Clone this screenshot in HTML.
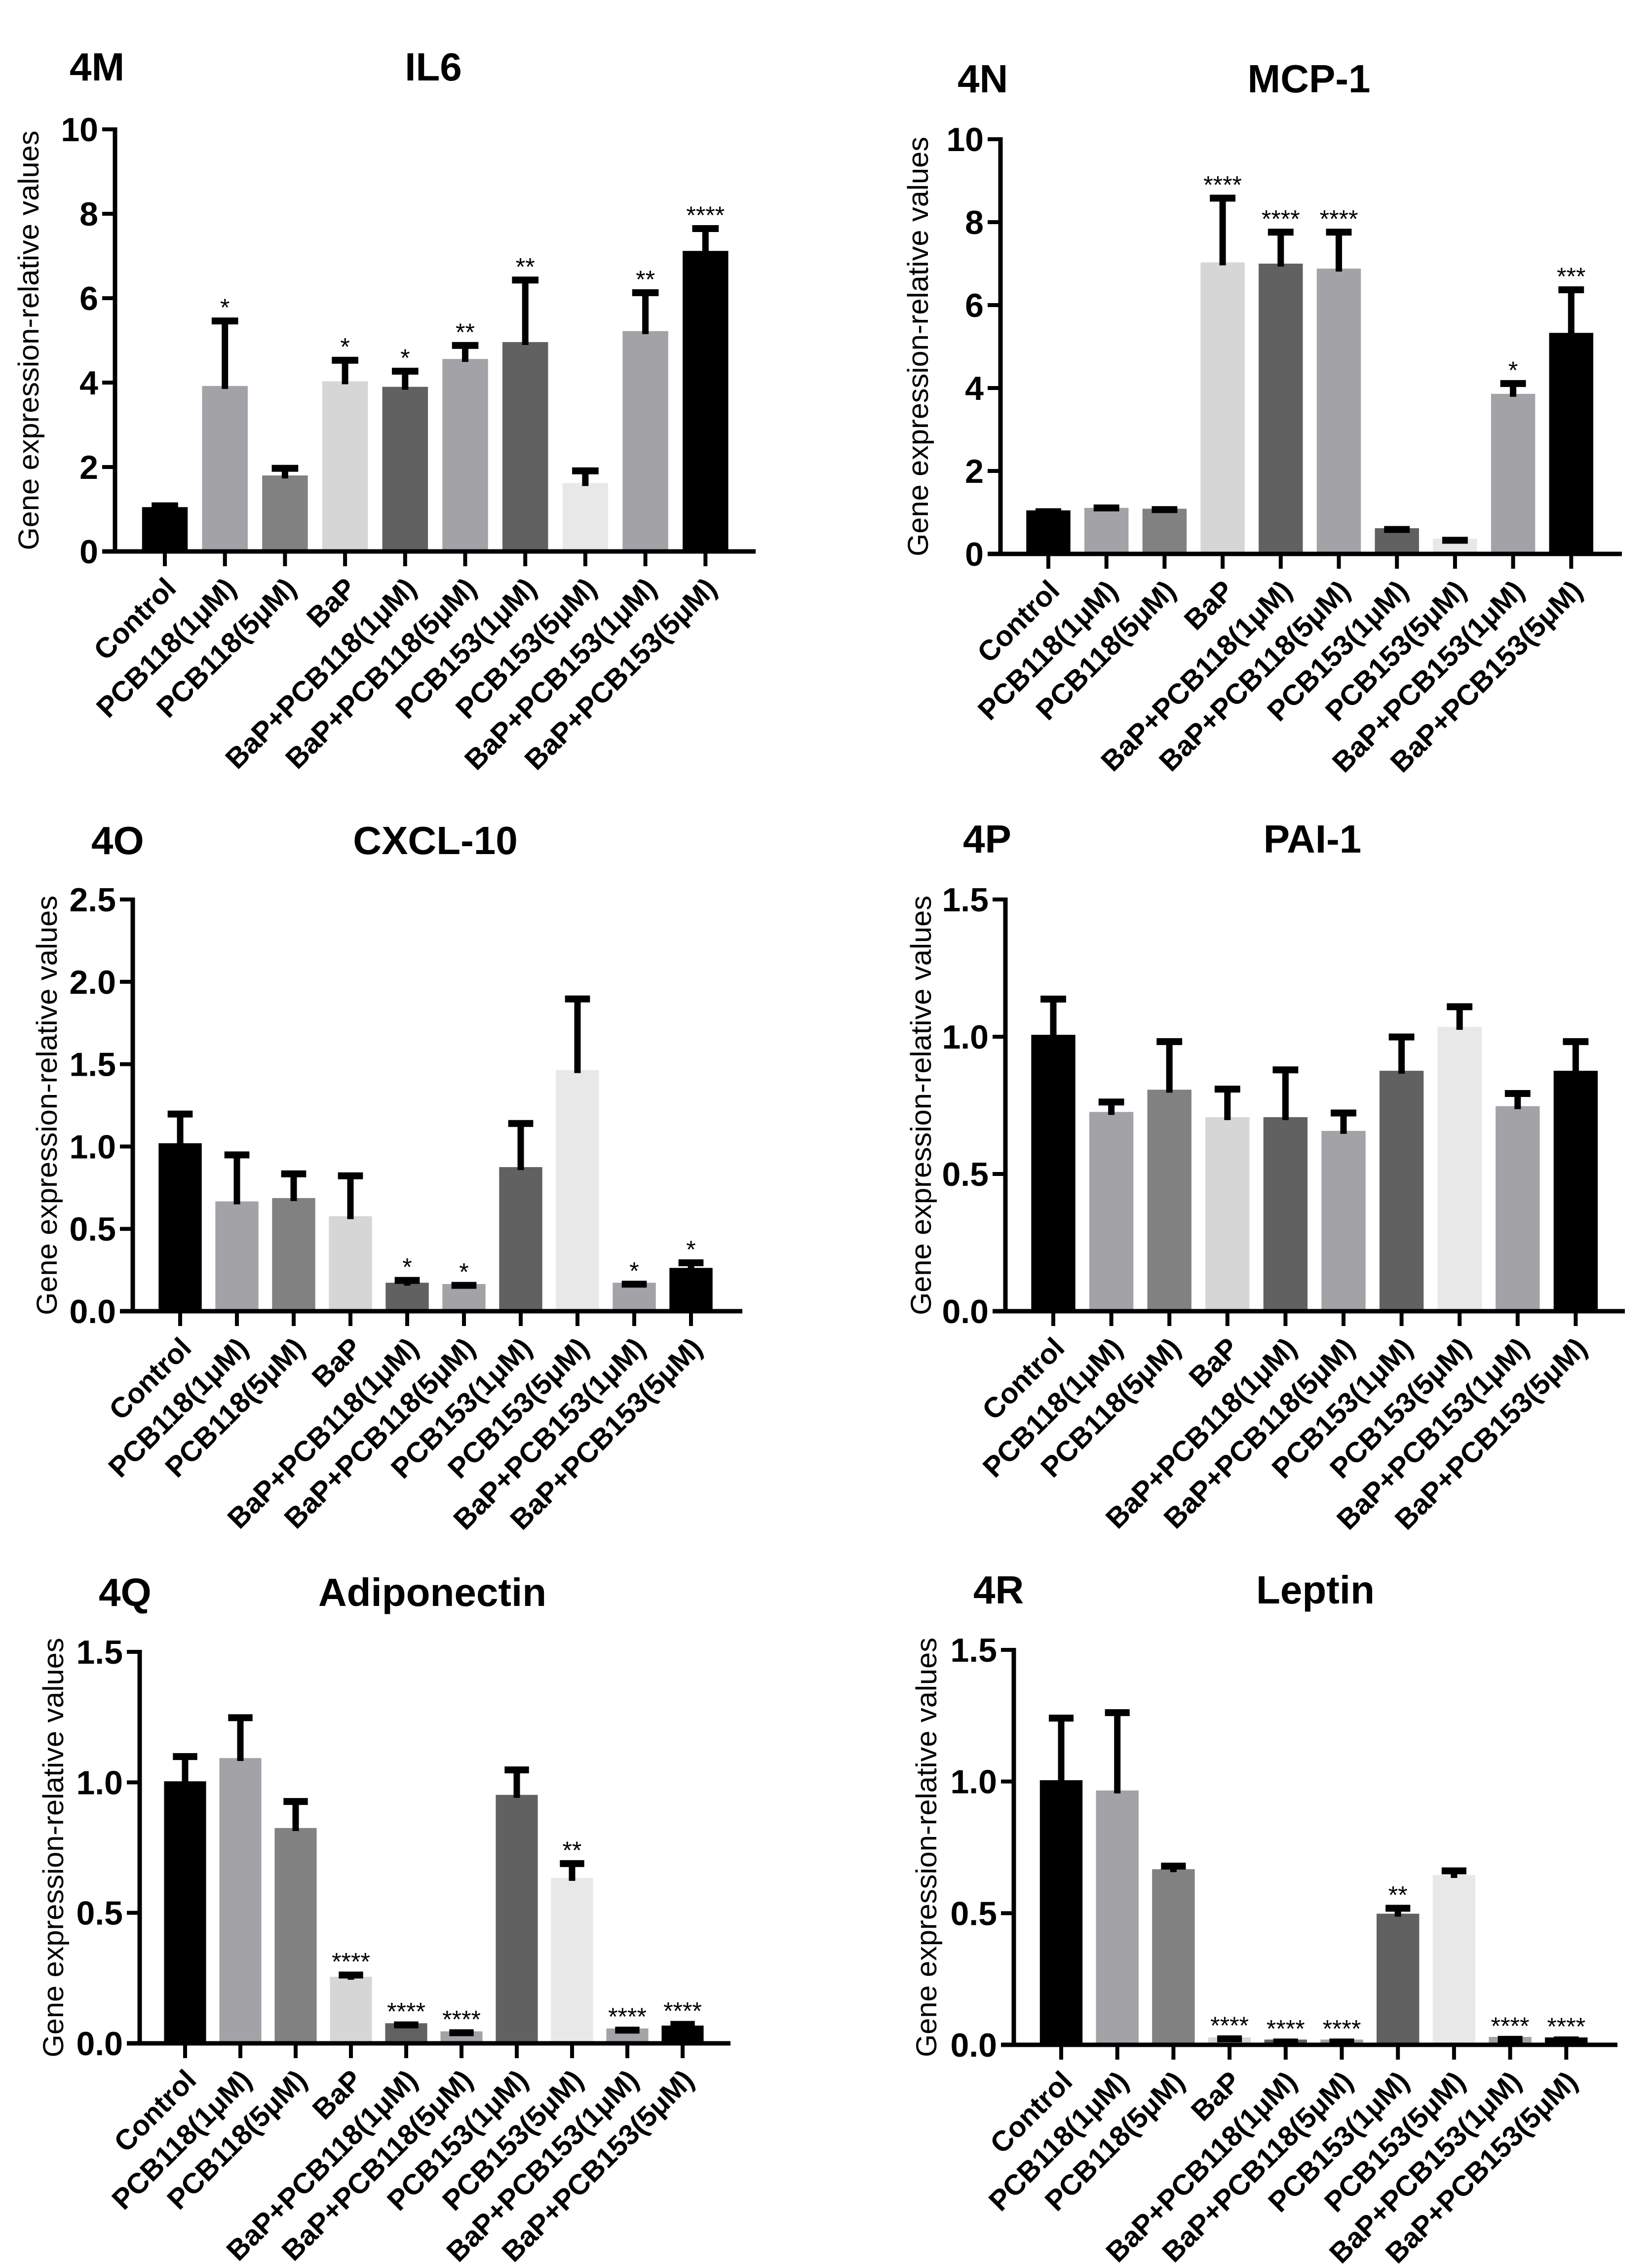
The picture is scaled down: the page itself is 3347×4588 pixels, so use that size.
<!DOCTYPE html>
<html><head><meta charset="utf-8"><style>
html,body{margin:0;padding:0;background:#fff}
svg{display:block}
text{font-family:"Liberation Sans",Arial,sans-serif}
</style></head><body>
<svg id="fig" xmlns="http://www.w3.org/2000/svg" width="3347" height="4588" viewBox="0 0 3347 4588"></svg>
<script>
const categories = ["Control","PCB118(1μM)","PCB118(5μM)","BaP","BaP+PCB118(1μM)","BaP+PCB118(5μM)","PCB153(1μM)","PCB153(5μM)","BaP+PCB153(1μM)","BaP+PCB153(5μM)"];
const barColors = ["#000000","#a3a2a7","#818181","#d6d6d6","#616161","#a3a2a7","#616161","#e8e8e8","#a3a2a7","#000000"];

const il6Values = [1.05,3.92,1.80,4.03,3.90,4.56,4.96,1.62,5.22,7.12];
const il6Errors = [1.15,5.53,2.04,4.60,4.34,4.95,6.50,1.98,6.20,7.72];
const il6Stars = ["","*","","*","*","**","**","","**","****"];
const il6Ticks = [0,2,4,6,8,10];

const mcpValues = [1.05,1.11,1.09,7.03,7.00,6.88,0.62,0.37,3.86,5.33];
const mcpErrors = [1.09,1.18,1.14,8.65,7.83,7.83,0.66,0.40,4.18,6.44];
const mcpStars = ["","","","****","****","****","","","*","***"];
const mcpTicks = [0,2,4,6,8,10];

const cxclValues = [1.02,0.667,0.687,0.577,0.173,0.165,0.875,1.464,0.173,0.263];
const cxclErrors = [1.215,0.967,0.852,0.840,0.205,0.175,1.158,1.914,0.182,0.312];
const cxclStars = ["","","","","*","*","","","*","*"];
const cxclTicks = [0,0.5,1.0,1.5,2.0,2.5];

const paiValues = [1.007,0.726,0.807,0.707,0.707,0.657,0.876,1.036,0.747,0.876];
const paiErrors = [1.148,0.773,0.993,0.820,0.890,0.733,1.010,1.120,0.804,0.993];
const paiStars = ["","","","","","","","","",""];
const paiTicks = [0,0.5,1.0,1.5];

const adipoValues = [1.004,1.093,0.825,0.255,0.077,0.046,0.952,0.634,0.057,0.068];
const adipoErrors = [1.110,1.259,0.938,0.273,0.082,0.052,1.059,0.700,0.062,0.084];
const adipoStars = ["","","","****","****","****","","**","****","****"];
const adipoTicks = [0,0.5,1.0,1.5];

const leptinValues = [1.005,0.966,0.667,0.028,0.020,0.020,0.498,0.645,0.030,0.028];
const leptinErrors = [1.252,1.273,0.690,0.034,0.022,0.022,0.530,0.672,0.032,0.030];
const leptinStars = ["","","","****","****","****","**","","****","****"];
const leptinTicks = [0,0.5,1.0,1.5];

const NS = "http://www.w3.org/2000/svg";
const svg = document.getElementById("fig");
function mk(tag, attrs, parent){
  const e = document.createElementNS(NS, tag);
  for (const k in attrs) e.setAttribute(k, attrs[k]);
  (parent||svg).appendChild(e);
  return e;
}

function panel(cfg, values, errors, stars, ticks){
  const g = mk("g", {});
  
  
  const ymax = ticks[ticks.length-1];
  const yScale = v => cfg.y0 - (v/ymax)*(cfg.y0-cfg.yTop);
  const xScale = i => cfg.x0 + i*cfg.step;
  const bw = cfg.step*0.76;

  const pl = mk("text", {x:cfg.lblX, y:cfg.lblY, "font-size":80, "font-weight":"bold", fill:"#000"}, g);
  pl.textContent = cfg.label;
  
  
  const tt = mk("text", {x:cfg.titleX, y:cfg.lblY, "font-size":80, "font-weight":"bold", "text-anchor":"middle", fill:"#000"}, g);
  tt.textContent = cfg.title;
  
  

  const ymid = (cfg.yTop+cfg.y0)/2;
  const yl = mk("text", {x:0, y:0, "font-size":58, "text-anchor":"middle", textLength:850, lengthAdjust:"spacingAndGlyphs", fill:"#000",
    transform:`translate(${cfg.ylX},${ymid}) rotate(-90)`}, g);
  yl.textContent = "Gene expression-relative values";
  
  

  values.forEach((v,i)=>{
    const cx = xScale(i);
    const r = mk("rect", {x:cx-bw/2, y:yScale(v), width:bw, height:cfg.y0-yScale(v), fill:barColors[i]}, g);
    
    
    const eTop = yScale(errors[i]);
    const el = mk("line", {x1:cx, x2:cx, y1:yScale(v)+6, y2:eTop, stroke:"#000", "stroke-width":13}, g);
    
    
    const cap = mk("line", {x1:cx-bw*0.29, x2:cx+bw*0.29, y1:eTop+6, y2:eTop+6, stroke:"#000", "stroke-width":14}, g);
    
    
    if (stars[i]){
      const s = mk("text", {x:cx, y:eTop-4, "font-size":50, "text-anchor":"middle", fill:"#000"}, g);
      s.textContent = stars[i];
      
      
    }
    const tk = mk("line", {x1:cx, x2:cx, y1:cfg.y0, y2:cfg.y0+30, stroke:"#000", "stroke-width":8}, g);
    
    
    const lab = mk("text", {x:0, y:0, "font-size":58, "font-weight":"bold", "text-anchor":"end", fill:"#000",
      transform:`translate(${cx+26},${cfg.y0+78}) rotate(-45)`}, g);
    lab.textContent = categories[i];
    
    
  });

  const ya = mk("line", {x1:cfg.axX, x2:cfg.axX, y1:cfg.yTop-4, y2:cfg.y0+4, stroke:"#000", "stroke-width":9}, g);
  
  
  const xa = mk("line", {x1:cfg.axX-26, x2:cfg.xEnd, y1:cfg.y0, y2:cfg.y0, stroke:"#000", "stroke-width":9}, g);
  
  
  ticks.forEach(t=>{
    const y = yScale(t);
    const tl = mk("line", {x1:cfg.axX-26, x2:cfg.axX, y1:y, y2:y, stroke:"#000", "stroke-width":8}, g);
    
    
    const tx = mk("text", {x:cfg.axX-34, y:y+24, "font-size":68, "font-weight":"bold", "text-anchor":"end", fill:"#000"}, g);
    tx.textContent = cfg.dec ? t.toFixed(1) : String(t);
    
    
  });
}

panel({id:"il6", label:"4M", title:"IL6", lblX:141, titleX:878, lblY:163, axX:233, yTop:262, y0:1117, x0:334, step:121.7, xEnd:1531, ylX:78, dec:false},
  il6Values, il6Errors, il6Stars, il6Ticks);
panel({id:"mcp1", label:"4N", title:"MCP-1", lblX:1940, titleX:2652, lblY:187, axX:2027, yTop:282, y0:1122, x0:2124, step:117.7, xEnd:3286, ylX:1880, dec:false},
  mcpValues, mcpErrors, mcpStars, mcpTicks);
panel({id:"cxcl10", label:"4O", title:"CXCL-10", lblX:185, titleX:882, lblY:1730, axX:269, yTop:1822, y0:2656, x0:365, step:115, xEnd:1504, ylX:115, dec:true},
  cxclValues, cxclErrors, cxclStars, cxclTicks);
panel({id:"pai1", label:"4P", title:"PAI-1", lblX:1951, titleX:2659, lblY:1727, axX:2037, yTop:1822, y0:2656, x0:2134, step:117.6, xEnd:3292, ylX:1886, dec:true},
  paiValues, paiErrors, paiStars, paiTicks);
panel({id:"adiponectin", label:"4Q", title:"Adiponectin", lblX:200, titleX:876, lblY:3253, axX:283, yTop:3346, y0:4139, x0:375, step:112, xEnd:1480, ylX:128, dec:true},
  adipoValues, adipoErrors, adipoStars, adipoTicks);
panel({id:"leptin", label:"4R", title:"Leptin", lblX:1972, titleX:2665, lblY:3248, axX:2054, yTop:3342, y0:4142, x0:2150, step:113.7, xEnd:3277, ylX:1897, dec:true},
  leptinValues, leptinErrors, leptinStars, leptinTicks);
</script>
</body></html>
